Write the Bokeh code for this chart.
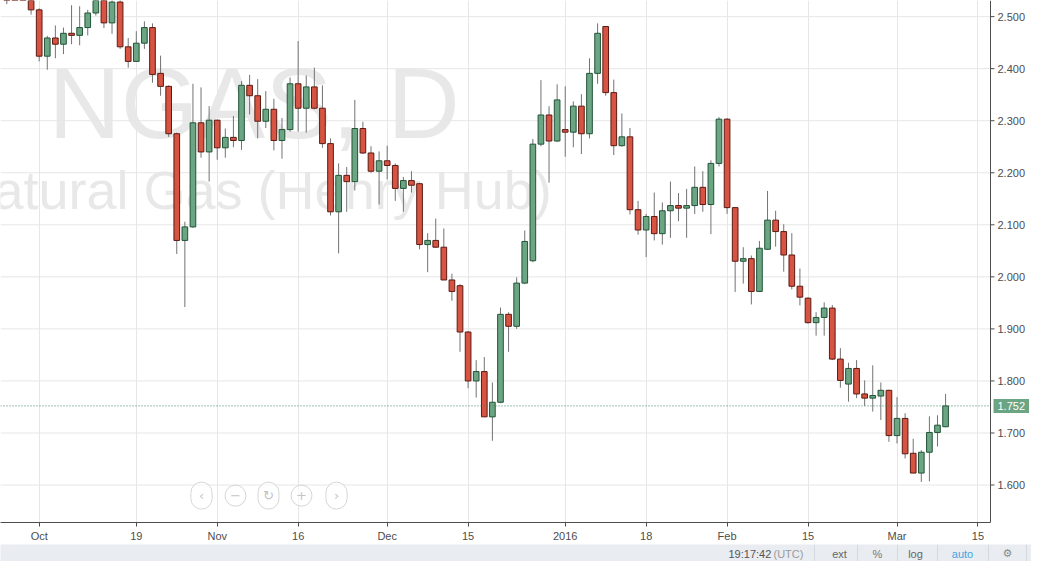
import pandas as pd
from bokeh.plotting import figure
from bokeh.models import (Range1d, FixedTicker, Span, Label, ColumnDataSource)
from bokeh.core.properties import value
from bokeh.layouts import column
from bokeh.embed import file_html
from bokeh.resources import INLINE

# ---------------- data ----------------
holidays = ["2015-12-25", "2016-01-01"]
day_strs = [d.strftime("%Y-%m-%d") for d in pd.bdate_range("2015-09-25", "2016-03-15")
            if d.strftime("%Y-%m-%d") not in holidays]

opens = [2.600, 2.580, 2.560, 2.550,
         2.513, 2.424, 2.459, 2.447, 2.468, 2.464, 2.479, 2.507, 2.545, 2.488, 2.528, 2.442,
         2.414, 2.449, 2.479, 2.391, 2.366, 2.275, 2.070, 2.096, 2.296, 2.240,
         2.301, 2.248, 2.268, 2.262, 2.368, 2.348, 2.299, 2.322, 2.262, 2.283, 2.371, 2.324,
         2.365, 2.324, 2.256, 2.125, 2.195, 2.183, 2.285, 2.238, 2.203,
         2.223, 2.214, 2.170, 2.185, 2.179, 2.062, 2.070, 2.057, 1.994, 1.983, 1.894, 1.800,
         1.818, 1.731, 1.759, 1.928, 1.905, 1.988, 2.031, 2.255, 2.311, 2.261,
         2.283, 2.278, 2.328, 2.275, 2.391, 2.481, 2.354, 2.252, 2.269, 2.129, 2.090, 2.116,
         2.083, 2.127, 2.137, 2.132, 2.137, 2.172, 2.139, 2.218,
         2.303, 2.133, 2.030, 2.035, 1.972, 2.053, 2.109, 2.087, 2.042, 1.982, 1.959, 1.912,
         1.922, 1.940, 1.842, 1.794, 1.824, 1.775, 1.767, 1.771, 1.782,
         1.695, 1.728, 1.661, 1.623, 1.663, 1.701, 1.712]
highs = [2.620, 2.600, 2.575, 2.560,
         2.516, 2.463, 2.483, 2.479, 2.522, 2.520, 2.513, 2.560, 2.555, 2.540, 2.535, 2.459,
         2.472, 2.491, 2.487, 2.425, 2.368, 2.277, 2.106, 2.371, 2.364, 2.328,
         2.302, 2.285, 2.309, 2.376, 2.388, 2.380, 2.357, 2.342, 2.305, 2.383, 2.453, 2.387,
         2.402, 2.368, 2.266, 2.218, 2.211, 2.340, 2.298, 2.251, 2.241,
         2.252, 2.218, 2.192, 2.203, 2.181, 2.084, 2.112, 2.093, 2.006, 1.986, 1.896, 1.840,
         1.846, 1.797, 1.941, 1.932, 1.999, 2.089, 2.265, 2.378, 2.328, 2.370,
         2.366, 2.337, 2.351, 2.420, 2.487, 2.482, 2.379, 2.314, 2.286, 2.146, 2.121, 2.162,
         2.143, 2.183, 2.161, 2.169, 2.212, 2.203, 2.224, 2.307,
         2.305, 2.134, 2.057, 2.041, 2.069, 2.165, 2.127, 2.101, 2.084, 2.016, 1.961, 1.932,
         1.951, 1.946, 1.863, 1.835, 1.840, 1.801, 1.830, 1.797, 1.783,
         1.769, 1.738, 1.689, 1.667, 1.732, 1.734, 1.775]
lows = [2.524, 2.545, 2.540, 2.504,
        2.414, 2.398, 2.420, 2.428, 2.447, 2.445, 2.464, 2.502, 2.478, 2.467, 2.438, 2.402,
        2.414, 2.438, 2.373, 2.348, 2.269, 2.044, 1.942, 2.094, 2.229, 2.183,
        2.225, 2.229, 2.249, 2.244, 2.312, 2.266, 2.286, 2.243, 2.227, 2.279, 2.279, 2.277,
        2.322, 2.248, 2.118, 2.045, 2.125, 2.166, 2.236, 2.200, 2.139,
        2.187, 2.146, 2.125, 2.162, 2.053, 2.009, 2.056, 1.994, 1.954, 1.856, 1.786, 1.768,
        1.731, 1.685, 1.757, 1.856, 1.900, 1.986, 2.028, 2.251, 2.181, 2.259,
        2.231, 2.249, 2.236, 2.266, 2.371, 2.348, 2.234, 2.250, 2.120, 2.081, 2.038, 2.070,
        2.062, 2.075, 2.107, 2.075, 2.121, 2.125, 2.082, 2.212,
        2.121, 1.971, 1.987, 1.947, 1.971, 2.052, 2.058, 2.010, 1.976, 1.945, 1.910, 1.887,
        1.887, 1.840, 1.787, 1.760, 1.767, 1.752, 1.741, 1.725, 1.683,
        1.680, 1.651, 1.623, 1.606, 1.607, 1.674, 1.711]
closes = [2.580, 2.560, 2.550, 2.513,
          2.424, 2.459, 2.447, 2.468, 2.464, 2.479, 2.507, 2.545, 2.488, 2.528, 2.442, 2.414,
          2.449, 2.479, 2.389, 2.366, 2.275, 2.070, 2.096, 2.296, 2.240, 2.301,
          2.248, 2.268, 2.262, 2.368, 2.348, 2.299, 2.322, 2.262, 2.283, 2.371, 2.324, 2.365,
          2.324, 2.256, 2.125, 2.195, 2.183, 2.285, 2.238, 2.203, 2.223,
          2.214, 2.170, 2.185, 2.176, 2.062, 2.070, 2.057, 1.994, 1.972, 1.894, 1.800, 1.818,
          1.731, 1.759, 1.928, 1.905, 1.988, 2.068, 2.255, 2.311, 2.261, 2.340,
          2.278, 2.328, 2.275, 2.391, 2.468, 2.354, 2.252, 2.269, 2.129, 2.090, 2.116, 2.083,
          2.127, 2.137, 2.132, 2.137, 2.172, 2.139, 2.218, 2.303,
          2.133, 2.030, 2.035, 1.972, 2.055, 2.109, 2.087, 2.042, 1.982, 1.961, 1.912, 1.922,
          1.940, 1.842, 1.801, 1.824, 1.775, 1.767, 1.772, 1.782, 1.695,
          1.728, 1.660, 1.623, 1.663, 1.701, 1.715, 1.752]

tick_dates = ["2015-10-01", "2015-10-19", "2015-11-02", "2015-11-16", "2015-12-01",
              "2015-12-15", "2016-01-04", "2016-01-18", "2016-02-01", "2016-02-15",
              "2016-03-01", "2016-03-15"]
tick_labels = ["Oct", "19", "Nov", "16", "Dec", "15", "2016", "18", "Feb", "15", "Mar", "15"]
price_ticks = [1.6, 1.7, 1.8, 1.9, 2.0, 2.1, 2.2, 2.3, 2.4, 2.5]
price_labels = ["1.600", "1.700", "1.800", "1.900", "2.000", "2.100", "2.200", "2.300",
                "2.400", "2.500"]
last_price = 1.752
symbol_title = "NGAS, D"
symbol_desc = "Natural Gas (Henry Hub)"

# ---------------- styles / layout ----------------
UP_FILL, UP_LINE = "#6ba583", "#225437"
DN_FILL, DN_LINE = "#d75442", "#5b1a13"
WICK = "#737375"
GRID = "#e6e6e6"
AXIS = "#4d4d4d"
FONT = "Liberation Sans"

W, H_MAIN, H_BAR, B_AX = 1031, 544, 17, 18
PLOT_W = 990                      # pixels from left edge to the price-axis line
X_START, AXIS_X = -0.78, 121.55   # index range shown left of the price axis
X_END = X_START + (AXIS_X - X_START) * W / PLOT_W
Y_START, Y_END = 1.528, 2.531

idx = list(range(len(opens)))
up = [c >= o for o, c in zip(opens, closes)]
src = ColumnDataSource(dict(
    x=idx, low=lows, high=highs,
    top=[max(o, c) for o, c in zip(opens, closes)],
    bottom=[min(o, c) for o, c in zip(opens, closes)],
    fill=[UP_FILL if u else DN_FILL for u in up],
    line=[UP_LINE if u else DN_LINE for u in up],
))

tick_pos = [day_strs.index(d) for d in tick_dates]

p = figure(width=W, height=H_MAIN, x_range=Range1d(X_START, X_END),
           y_range=Range1d(Y_START, Y_END), y_axis_location=None,
           output_backend="svg", toolbar_location=None,
           min_border_left=0, min_border_top=0, min_border_right=0,
           min_border_bottom=B_AX)
p.outline_line_color = None
p.background_fill_color = "white"
p.border_fill_color = "white"

# bottom (time) axis
xa = p.xaxis[0]
xa.ticker = FixedTicker(ticks=tick_pos)
xa.major_label_overrides = {t: l for t, l in zip(tick_pos, tick_labels)}
xa.bounds = (X_START, AXIS_X)
xa.axis_line_color = AXIS
xa.major_tick_line_color = AXIS
xa.major_tick_out = 4
xa.major_tick_in = 0
xa.minor_tick_line_color = None
xa.major_label_text_font = FONT
xa.major_label_text_font_size = "11px"
xa.major_label_text_color = AXIS
xa.major_label_standoff = 3
p.xgrid.grid_line_color = GRID
p.ygrid.visible = False

# horizontal grid (stops at the price axis)
n = len(price_ticks)
p.segment(x0=[X_START] * n, x1=[AXIS_X] * n, y0=price_ticks, y1=price_ticks,
          line_color=GRID, line_width=1)

# watermark
p.add_layout(Label(x=48, y=2.2268, x_units="screen", y_units="data", text=symbol_title,
                   text_font=FONT, text_font_size="100px", text_color="#e8e8e8",
                   level="underlay"))
p.add_layout(Label(x=-46, y=2.1096, x_units="screen", y_units="data", text=symbol_desc,
                   text_font=FONT, text_font_size="54px", text_color="#e8e8e8",
                   level="underlay"))

# candles
p.segment(x0="x", y0="low", x1="x", y1="high", source=src, line_color=WICK, line_width=1)
p.vbar(x="x", width=0.7, top="top", bottom="bottom", source=src,
       fill_color="fill", line_color="line", line_width=1)

# price axis (right side)
p.add_layout(Span(location=AXIS_X, dimension="height", line_color=AXIS, line_width=1))
p.ray(x=[AXIS_X] * n, y=price_ticks, length=4, length_units="screen", angle=0,
      line_color=AXIS, line_width=1)
p.text(x=[AXIS_X] * n, y=price_ticks, text=price_labels, x_offset=7,
       text_font=value(FONT), text_font_size="11px", text_color=AXIS,
       text_baseline="middle", text_align="left")

# last price line + tag
p.segment(x0=[X_START], x1=[AXIS_X], y0=[last_price], y1=[last_price],
          line_color="#3f7d60", line_dash="1 2", line_width=1)
p.add_layout(Label(x=AXIS_X, y=last_price, x_units="data", y_units="data", x_offset=3,
                   text=f"{last_price:.3f}", text_font=FONT, text_font_size="11px",
                   text_color="white", text_baseline="middle",
                   background_fill_color=UP_FILL, padding=(4, 3)))

# navigation buttons
for bx, sym, pad in zip([201, 235, 268, 301, 336], ["‹", "−", "↻", "+", "›"],
                        [8, 5, 5, 5, 8]):
    p.add_layout(Label(x=bx, y=1.5796, x_units="screen", y_units="data", text=sym,
                       text_font="DejaVu Sans", text_font_size="13px", text_color="#c4c4c4",
                       text_align="center", text_baseline="middle",
                       border_line_color="#d6d6d6", border_radius=13,
                       background_fill_color="white", background_fill_alpha=0.6,
                       padding=(pad, 6)))

# status bar
sb = figure(width=W, height=H_BAR, x_range=Range1d(0, W), y_range=Range1d(0, H_BAR),
            output_backend="svg", toolbar_location=None, min_border=0)
sb.axis.visible = False
sb.grid.visible = False
sb.outline_line_color = None
sb.background_fill_color = "#e9ecf1"
sb.border_fill_color = "#e9ecf1"
seps = [814, 857, 897, 937, 988, 1026]
sb.segment(x0=seps, y0=[0] * len(seps), x1=seps, y1=[H_BAR] * len(seps),
           line_color="#d4d8df", line_width=1)
items = [(728, "19:17:42", "#555555", "left"), (773, "(UTC)", "#9a9a9a", "left"),
         (839, "ext", "#666666", "center"), (877, "%", "#777777", "center"),
         (915, "log", "#666666", "center"), (962, "auto", "#3ea6e0", "center"),
         (1007, "⚙", "#8a8a8a", "center")]
for x, t, c, al in items:
    sb.add_layout(Label(x=x, y=8, x_units="data", y_units="data", text=t,
                        text_font=FONT if t != "⚙" else "DejaVu Sans",
                        text_font_size="11px", text_color=c, text_align=al,
                        text_baseline="middle"))

layout = column(p, sb, spacing=0)
open("out.html", "w").write(file_html(layout, INLINE))
